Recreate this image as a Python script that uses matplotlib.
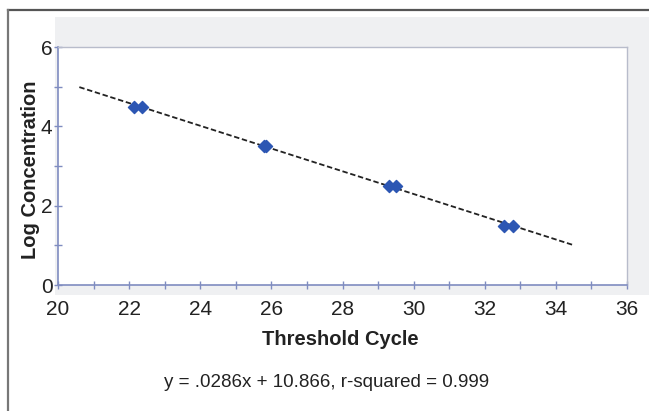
import matplotlib
matplotlib.use("Agg")
import matplotlib.pyplot as plt
from matplotlib.patches import Rectangle
from matplotlib.lines import Line2D
import numpy as np

plt.rcParams['font.family'] = ['Liberation Sans', 'DejaVu Sans']

threshold_cycle = [22.15, 22.35, 25.8, 25.85, 29.3, 29.5, 32.55, 32.8]
log_conc = [4.5, 4.5, 3.5, 3.5, 2.5, 2.5, 1.5, 1.5]
fit_x_range = [20.6, 34.5]
x_ticks = [20, 22, 24, 26, 28, 30, 32, 34, 36]
y_ticks = [0, 2, 4, 6]
equation = "y = .0286x + 10.866, r-squared = 0.999"

W, H = 649, 411
fig = plt.figure(figsize=(W / 100, H / 100), dpi=100)

# gray panel background
fig.patches.append(Rectangle((55 / W, 1 - 295 / H), (W - 55) / W, (295 - 17) / H,
                             transform=fig.transFigure, facecolor='#eff0f2',
                             edgecolor='none', zorder=-5))
# outer border lines (top and left)
fig.lines.append(Line2D([8 / W, 1], [1 - 10 / H, 1 - 10 / H], transform=fig.transFigure,
                        color='#555555', lw=1.6, zorder=-5))
fig.lines.append(Line2D([8 / W, 8 / W], [1 - 10 / H, 0], transform=fig.transFigure,
                        color='#777777', lw=1.6, zorder=-5))

left, right, top, bottom = 58, 627, 47, 285
ax = fig.add_axes([left / W, 1 - bottom / H, (right - left) / W, (bottom - top) / H])
ax.set_zorder(2)
ax.set_facecolor('white')
ax.set_xlim(20, 36)
ax.set_ylim(0, 6)

axis_col = '#7f8cc0'
for s in ['left', 'bottom']:
    ax.spines[s].set_color(axis_col)
    ax.spines[s].set_linewidth(1.2)
for s in ['top', 'right']:
    ax.spines[s].set_color('#b8bccb')
    ax.spines[s].set_linewidth(1.0)

ax.set_xticks(x_ticks)
ax.set_yticks(y_ticks)
ax.set_xticks(np.arange(20, 37, 1), minor=True)
ax.set_yticks(np.arange(0, 7, 1), minor=True)
ax.tick_params(which='both', direction='inout', color=axis_col, length=6, width=1,
               top=False, right=False)
ax.tick_params(axis='y', which='major', labelsize=15, labelcolor='#222222', pad=1)
ax.tick_params(axis='x', which='major', labelsize=15, labelcolor='#222222', pad=8)

# fit line
coef = np.polyfit(threshold_cycle, log_conc, 1)
fx = np.array(fit_x_range)
ax.plot(fx, np.polyval(coef, fx), color='#222222', lw=1.3, ls=(0, (3, 1.5)), zorder=2)

ax.scatter(threshold_cycle, log_conc, marker='D', s=38, color='#2c56b3',
           edgecolors='#2c56b3', zorder=3)

fig.text(340 / W, 1 - 339 / H, 'Threshold Cycle', ha='center', va='center',
         fontsize=14.5, fontweight='bold', color='#222222')
fig.text(31 / W, 1 - 170 / H, 'Log Concentration', ha='center', va='center',
         rotation=90, fontsize=14.5, fontweight='bold', color='#222222')
fig.text(327 / W, 1 - 382 / H, equation, ha='center', va='center',
         fontsize=13.5, color='#222222')

fig.savefig('out.png', dpi=100, facecolor='white')
